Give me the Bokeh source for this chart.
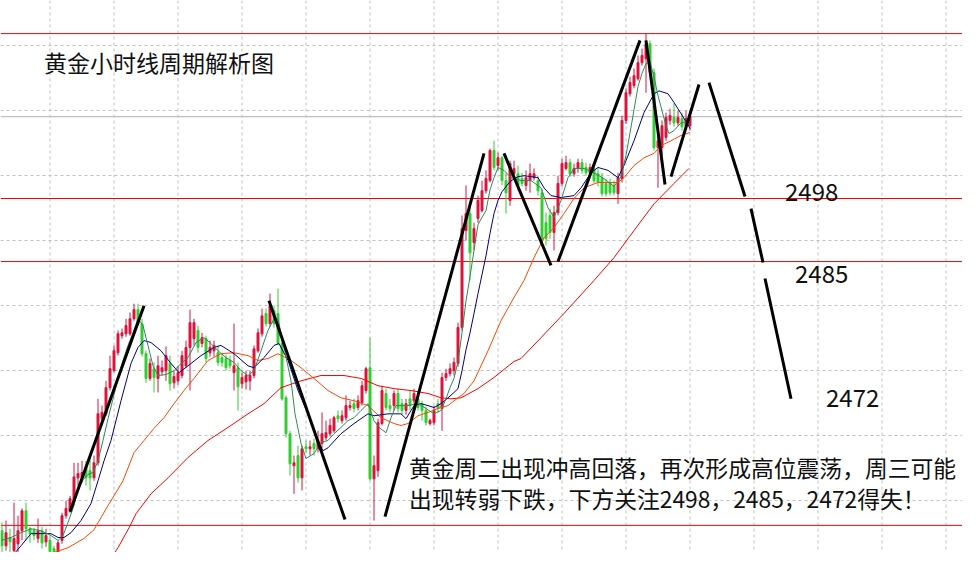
from bokeh.plotting import figure
from bokeh.models import Range1d, Span, Label, ColumnDataSource
from bokeh.embed import file_html
from bokeh.resources import INLINE

# ---- hourly XAUUSD candles (price) ----
opens = [2429.5, 2426.4, 2428.1, 2425.4, 2426.8, 2429.5, 2433.6, 2429.9, 2429.5, 2427.9,
         2429.5, 2427.2, 2427.5, 2425.8, 2424.8, 2427.5, 2432.6, 2433.6, 2435.7, 2440.4,
         2440.4, 2442.7, 2441.9, 2440.4, 2443.5, 2452.6, 2453.6, 2459.0, 2462.5, 2466.2,
         2469.7, 2470.1, 2470.1, 2473.2, 2475.1, 2472.2, 2466.0, 2460.9, 2462.9, 2460.9,
         2462.3, 2462.5, 2464.0, 2460.0, 2460.4, 2461.5, 2463.5, 2467.3, 2469.1, 2470.8,
         2468.1, 2469.1, 2466.2, 2466.6, 2466.2, 2465.2, 2465.0, 2464.6, 2462.1, 2463.1,
         2459.8, 2460.2, 2460.4, 2461.5, 2466.6, 2470.1, 2474.3, 2472.2, 2474.9, 2474.3,
         2468.1, 2456.9, 2449.5, 2442.9, 2445.0, 2440.4, 2446.8, 2446.4, 2447.5, 2446.4,
         2447.5, 2448.7, 2449.5, 2450.1, 2453.2, 2452.2, 2452.8, 2454.9, 2455.7, 2454.9,
         2455.9, 2458.4, 2463.1, 2440.2, 2441.9, 2451.6, 2457.8, 2455.3, 2455.3, 2457.8,
         2455.7, 2454.3, 2456.7, 2456.3, 2456.7, 2455.7, 2454.3, 2451.6, 2451.8, 2455.7,
         2454.7, 2461.1, 2461.9, 2462.5, 2464.0, 2471.4, 2491.4, 2494.9, 2488.9, 2493.9,
         2495.5, 2499.6, 2501.7, 2507.9, 2504.8, 2506.4, 2501.7, 2497.6, 2503.1, 2503.1,
         2502.1, 2500.7, 2501.7, 2502.3, 2501.7, 2499.2, 2493.0, 2494.5, 2491.0, 2495.1,
         2501.1, 2504.2, 2505.4, 2503.1, 2504.2, 2505.4, 2504.4, 2503.3, 2504.2, 2503.1,
         2502.3, 2501.1, 2501.3, 2500.7, 2499.0, 2502.1, 2514.1, 2519.6, 2521.3, 2522.7,
         2526.0, 2526.8, 2529.9, 2524.0, 2508.5, 2508.5, 2510.6, 2514.1, 2514.7, 2513.6,
         2514.5, 2513.0, 2513.0]
highs = [2431.2, 2431.6, 2429.9, 2435.3, 2432.6, 2434.1, 2435.3, 2430.3, 2430.1, 2432.0,
         2430.3, 2429.9, 2428.3, 2426.4, 2427.5, 2433.2, 2435.7, 2436.7, 2443.5, 2443.5,
         2443.9, 2443.9, 2444.4, 2445.0, 2456.7, 2455.3, 2460.4, 2465.6, 2467.7, 2470.8,
         2471.2, 2473.2, 2474.5, 2476.3, 2476.3, 2473.2, 2466.6, 2465.0, 2464.2, 2465.6,
         2464.6, 2467.5, 2465.6, 2462.5, 2463.5, 2466.6, 2468.7, 2475.1, 2473.2, 2471.8,
         2470.3, 2469.7, 2468.7, 2468.7, 2467.7, 2466.2, 2465.8, 2465.6, 2472.2, 2464.2,
         2462.1, 2462.5, 2462.5, 2467.7, 2471.2, 2475.3, 2475.3, 2478.4, 2475.9, 2479.4,
         2468.7, 2457.4, 2450.1, 2445.0, 2447.0, 2447.0, 2448.1, 2448.1, 2448.5, 2450.1,
         2453.9, 2452.2, 2452.6, 2453.2, 2454.3, 2454.3, 2457.4, 2456.3, 2456.7, 2457.4,
         2460.4, 2463.3, 2469.3, 2445.0, 2452.6, 2459.4, 2458.8, 2456.7, 2458.4, 2458.8,
         2456.7, 2456.7, 2458.4, 2458.8, 2457.8, 2456.3, 2455.1, 2452.6, 2455.3, 2456.7,
         2462.1, 2462.9, 2464.0, 2465.2, 2472.4, 2494.5, 2500.7, 2496.5, 2493.0, 2498.6,
         2501.7, 2503.8, 2508.3, 2509.9, 2507.5, 2506.8, 2503.3, 2505.8, 2505.8, 2504.8,
         2503.3, 2503.8, 2505.2, 2504.2, 2502.7, 2500.0, 2495.1, 2495.9, 2496.5, 2502.7,
         2506.2, 2506.8, 2506.2, 2505.2, 2506.2, 2506.2, 2505.4, 2505.2, 2505.2, 2504.2,
         2503.3, 2502.1, 2502.1, 2501.7, 2503.3, 2515.1, 2520.7, 2523.1, 2524.8, 2527.5,
         2528.9, 2532.0, 2530.6, 2524.8, 2511.0, 2514.1, 2515.7, 2516.5, 2517.6, 2516.1,
         2515.7, 2516.1, 2516.1]
lows = [2425.0, 2425.4, 2422.9, 2424.4, 2425.0, 2427.5, 2427.5, 2427.0, 2427.5, 2427.0,
        2425.8, 2426.2, 2424.4, 2422.9, 2424.2, 2426.8, 2432.0, 2433.2, 2434.7, 2438.8,
        2439.4, 2438.8, 2437.8, 2439.8, 2442.9, 2451.2, 2453.2, 2458.4, 2462.1, 2465.6,
        2469.1, 2469.5, 2469.7, 2472.8, 2471.8, 2465.4, 2460.0, 2460.4, 2458.0, 2458.0,
        2461.5, 2460.4, 2458.4, 2458.8, 2459.6, 2460.9, 2463.1, 2458.4, 2467.7, 2466.2,
        2467.3, 2464.2, 2465.4, 2465.4, 2463.5, 2463.3, 2462.5, 2462.9, 2458.4, 2454.3,
        2458.8, 2458.6, 2458.4, 2460.9, 2466.2, 2469.5, 2471.6, 2471.6, 2471.4, 2467.7,
        2456.3, 2448.7, 2440.9, 2437.1, 2439.4, 2437.8, 2445.6, 2445.0, 2445.0, 2445.6,
        2446.6, 2448.1, 2448.9, 2449.7, 2451.8, 2451.6, 2452.2, 2454.3, 2453.9, 2454.3,
        2455.3, 2457.8, 2439.8, 2431.6, 2440.6, 2451.2, 2454.3, 2453.9, 2454.3, 2453.9,
        2453.4, 2453.4, 2454.3, 2455.7, 2454.3, 2452.2, 2451.2, 2451.2, 2451.2, 2453.9,
        2450.1, 2460.4, 2461.3, 2461.5, 2463.3, 2470.8, 2489.3, 2481.1, 2487.3, 2493.0,
        2495.1, 2499.0, 2501.3, 2503.8, 2503.8, 2500.7, 2494.9, 2496.5, 2502.1, 2499.6,
        2500.5, 2499.6, 2499.2, 2501.7, 2498.6, 2488.3, 2488.3, 2489.7, 2487.3, 2494.5,
        2500.5, 2503.8, 2502.5, 2502.5, 2503.3, 2503.1, 2502.7, 2502.7, 2501.1, 2500.5,
        2498.4, 2498.4, 2498.6, 2498.6, 2496.9, 2501.3, 2513.4, 2519.0, 2520.7, 2522.3,
        2525.4, 2519.8, 2523.3, 2507.9, 2500.2, 2506.8, 2509.9, 2513.2, 2512.8, 2513.0,
        2512.0, 2512.4, 2512.0]
closes = [2426.4, 2429.1, 2427.2, 2427.9, 2429.5, 2433.6, 2429.9, 2428.9, 2428.5, 2429.5,
          2427.0, 2428.5, 2425.2, 2425.0, 2427.0, 2432.6, 2434.1, 2436.1, 2440.6, 2441.3,
          2441.5, 2440.4, 2440.4, 2443.5, 2453.6, 2453.9, 2459.0, 2462.9, 2466.6, 2470.1,
          2470.3, 2471.8, 2473.2, 2475.1, 2472.2, 2466.0, 2460.9, 2464.0, 2461.1, 2463.5,
          2463.1, 2465.6, 2459.8, 2461.3, 2462.1, 2465.6, 2467.3, 2472.4, 2472.4, 2467.3,
          2469.3, 2465.0, 2467.3, 2467.7, 2464.2, 2464.2, 2463.1, 2463.5, 2463.5, 2459.2,
          2461.1, 2461.5, 2461.5, 2467.0, 2470.3, 2473.8, 2472.2, 2475.9, 2472.2, 2468.1,
          2456.7, 2449.5, 2443.3, 2443.5, 2440.4, 2446.4, 2446.4, 2446.8, 2446.4, 2448.1,
          2449.5, 2449.7, 2451.2, 2452.8, 2452.6, 2453.2, 2455.3, 2455.3, 2454.7, 2456.3,
          2459.4, 2462.9, 2440.2, 2442.9, 2451.8, 2458.4, 2454.9, 2454.7, 2457.8, 2454.7,
          2454.3, 2455.7, 2455.3, 2457.8, 2454.9, 2454.3, 2451.8, 2452.2, 2454.3, 2454.7,
          2461.1, 2461.9, 2462.9, 2464.2, 2471.4, 2491.8, 2494.9, 2486.8, 2491.8, 2497.6,
          2499.6, 2502.1, 2507.9, 2504.4, 2506.4, 2501.7, 2499.2, 2505.2, 2504.2, 2500.7,
          2501.1, 2502.3, 2503.1, 2503.1, 2499.6, 2489.3, 2489.7, 2491.0, 2495.1, 2501.1,
          2505.2, 2505.4, 2503.1, 2504.2, 2505.4, 2503.8, 2503.3, 2504.4, 2501.7, 2501.3,
          2499.0, 2499.0, 2499.2, 2499.2, 2502.3, 2514.1, 2519.8, 2521.9, 2523.3, 2526.0,
          2527.5, 2529.9, 2524.0, 2508.5, 2509.9, 2513.0, 2514.7, 2515.1, 2513.6, 2514.7,
          2512.8, 2514.5, 2514.9]

# ---- moving averages as (bar, price) ----
ma_green = [(-0.25, 2427.5), (2.25, 2428.1), (4.75, 2429.1), (7.25, 2429.9), (9.75, 2429.5),
            (12.25, 2428.5), (14, 2427.5), (15.25, 2428.5), (16.5, 2431.2), (17.75, 2434.1),
            (19, 2437.8), (20.25, 2440.0), (21.5, 2441.1), (22.75, 2441.5), (24, 2443.9),
            (25.25, 2448.1), (26.5, 2452.6), (27.75, 2456.7), (29, 2460.9), (30.25, 2464.6),
            (31.5, 2467.7), (32.75, 2470.3), (34, 2473.2), (35.25, 2471.8), (36.5, 2467.7),
            (37.75, 2463.5), (39, 2461.5), (41, 2461.7), (43, 2462.5), (44.75, 2464.0),
            (46.5, 2465.2), (48.5, 2468.3), (50.5, 2469.3), (52.25, 2468.1), (54, 2466.6),
            (56, 2465.2), (58, 2464.2), (59.75, 2462.5), (61.5, 2461.5), (63, 2462.5),
            (64.75, 2466.6), (66.5, 2470.8), (68, 2473.2), (69, 2473.2), (70.5, 2467.3),
            (72.25, 2460.4), (73.25, 2453.6), (74.75, 2447.5), (76, 2444.4), (78, 2445.4),
            (79.75, 2447.7), (81.5, 2448.1), (83, 2449.5), (84.75, 2450.8), (86.5, 2452.2),
            (88, 2452.8), (89.75, 2454.3), (91.5, 2455.7), (93, 2452.2), (94.25, 2450.8),
            (96, 2449.7), (97.25, 2452.8), (98.5, 2455.3), (101.5, 2455.3), (104, 2455.7),
            (106, 2454.7), (108, 2453.6), (109.75, 2454.3), (111, 2456.7), (112, 2459.0),
            (113, 2460.9), (114, 2464.4), (115, 2470.3), (116, 2476.9), (117, 2481.9),
            (118, 2487.3), (119, 2492.6), (120, 2494.1), (121, 2495.5), (122, 2499.8),
            (123, 2502.3), (124, 2504.4), (125.5, 2503.8), (127.25, 2502.3), (129.75, 2501.7),
            (132.25, 2501.7), (134.75, 2500.2), (136.5, 2496.1), (138, 2494.1), (139.75, 2497.6),
            (141.5, 2502.3), (143, 2504.2), (145.5, 2504.2), (148, 2503.3), (150.5, 2502.1),
            (153, 2500.5), (154.75, 2502.5), (156, 2506.9), (157, 2511.5), (158, 2516.3),
            (159, 2521.1), (160, 2523.8), (161, 2525.8), (162, 2526.2), (163, 2523.1),
            (164, 2519.2), (165, 2516.1), (166, 2513.0), (166.75, 2511.4), (168, 2512.0),
            (169.75, 2513.6), (172, 2513.9)]
ma_blue = [(-0.25, 2422.3), (2.25, 2424.0), (4.75, 2426.4), (7.25, 2428.9), (9, 2428.9),
           (12.25, 2428.9), (14, 2428.1), (15.5, 2428.1), (17.25, 2429.1), (19.75, 2431.6),
           (22.25, 2435.1), (24, 2439.8), (25.5, 2443.9), (27.25, 2448.1), (29.75, 2456.3),
           (32.25, 2464.0), (34, 2467.3), (35.5, 2468.7), (37.25, 2468.3), (39.75, 2466.6),
           (42.25, 2464.0), (44.25, 2462.1), (46.5, 2463.5), (49.75, 2465.6), (53, 2467.3),
           (54.75, 2467.7), (58, 2466.0), (61.5, 2463.5), (63, 2463.1), (65.5, 2465.2),
           (68, 2467.7), (69.25, 2468.1), (71.5, 2464.6), (74, 2458.4), (76.5, 2453.6),
           (79, 2448.1), (80.25, 2446.0), (81.5, 2446.6), (84.75, 2449.5), (88, 2451.6),
           (91.5, 2453.6), (93, 2453.2), (96.5, 2453.6), (99.75, 2453.6), (101, 2452.6),
           (103, 2455.3), (104.75, 2455.7), (106.5, 2455.3), (108, 2454.9), (109.75, 2455.7),
           (111.5, 2456.9), (113, 2458.0), (114, 2458.8), (115, 2462.5), (116, 2466.8),
           (117, 2470.3), (118, 2474.3), (119, 2478.4), (120, 2482.3), (121, 2486.2),
           (122, 2490.8), (123, 2494.9), (124, 2497.6), (125, 2499.4), (127, 2501.5),
           (129, 2502.5), (130.5, 2502.7), (134, 2502.3), (135.5, 2500.2), (137.25, 2498.6),
           (139.75, 2498.2), (143, 2498.6), (144.75, 2500.2), (147.25, 2503.3), (149, 2504.4),
           (151.5, 2503.8), (154, 2502.3), (155.5, 2504.8), (158, 2509.9), (160.5, 2515.7),
           (163, 2519.6), (164.25, 2520.2), (166.5, 2519.6), (168, 2517.8), (169.75, 2515.5),
           (171.5, 2513.2), (172, 2512.4)]
ma_orange = [(5.5, 2421.7), (9.75, 2424.0), (13, 2425.0), (16.5, 2426.0), (20.5, 2427.9),
             (23, 2429.7), (24.75, 2432.2), (26.5, 2434.7), (28, 2436.7), (30.25, 2439.8),
             (33, 2445.6), (35.5, 2448.1), (38, 2450.6), (40.5, 2452.8), (43, 2455.7),
             (45.5, 2458.4), (48, 2460.9), (51.5, 2464.6), (54.75, 2466.0), (58, 2466.2),
             (61.5, 2465.6), (64, 2464.6), (66.5, 2465.0), (69, 2466.0), (72.25, 2464.6),
             (74.75, 2463.1), (78, 2460.9), (81.5, 2458.4), (84.75, 2456.9), (88, 2456.3),
             (91.5, 2455.3), (94.75, 2452.8), (98, 2451.6), (99.75, 2451.2), (101.5, 2451.6),
             (104, 2453.2), (106.5, 2453.9), (109, 2454.7), (111.5, 2455.3), (114, 2456.9),
             (115.5, 2457.8), (118, 2460.4), (121.5, 2466.6), (124.75, 2472.8), (128, 2477.6),
             (130.5, 2481.1), (133, 2485.8), (135.5, 2489.9), (138, 2492.0), (140.5, 2494.9),
             (143, 2498.0), (145.5, 2500.2), (149, 2501.3), (154, 2501.3), (155.5, 2502.3),
             (158, 2504.8), (160.5, 2506.4), (163, 2507.3), (164.75, 2508.9), (167.25, 2509.9),
             (169.75, 2511.0), (172, 2511.6)]
ma_red = [(25.5, 2421.7), (29, 2426.0), (31.75, 2430.1), (33.5, 2433.0), (37.25, 2437.1),
          (41.5, 2440.4), (46.5, 2444.6), (51.5, 2448.1), (56.5, 2450.8), (61.5, 2453.6),
          (65.5, 2455.7), (69.75, 2459.0), (74.75, 2460.4), (79.75, 2461.5), (85.5, 2461.5),
          (89.75, 2460.9), (94, 2459.4), (98, 2458.8), (102.25, 2458.4), (106.5, 2457.8),
          (109.75, 2456.9), (112.25, 2456.7), (114.75, 2456.9), (119, 2458.8), (123, 2461.1),
          (128, 2464.4), (129.75, 2465.0), (134.75, 2469.3), (140.5, 2474.3), (148, 2481.1),
          (153, 2485.8), (158, 2491.4), (163, 2496.9), (168, 2501.1), (171.75, 2504.2)]

# ---- horizontal levels and hand-drawn trend strokes ----
levels = [2532.0, 2498.0, 2485.0, 2430.6]
last_price = 2514.9
trend_x0 = [17, 66.75, 95.75, 125.5, 139, 161, 167.25, 176.75, 187.25, 190.75]
trend_y0 = [2433.4, 2476.9, 2432.4, 2507.3, 2485.0, 2530.6, 2502.5, 2521.9, 2495.9, 2481.5]
trend_x1 = [35.5, 85.75, 120.5, 137.25, 159.5, 165.75, 174.25, 185.75, 190.25, 197.25]
trend_y1 = [2475.9, 2431.8, 2507.3, 2484.2, 2530.6, 2500.9, 2521.5, 2498.4, 2484.8, 2456.7]

title_text = "黄金小时线周期解析图"
target_labels = ["2498", "2485", "2472"]
note_lines = ["黄金周二出现冲高回落，再次形成高位震荡，周三可能",
              "出现转弱下跌，下方关注2498，2485，2472得失！"]

UP = "#dc143c"
DOWN = "#32cd32"
FONT = "Noto Sans CJK SC"

bars = list(range(len(opens)))
colors = [UP if c >= o else DOWN for o, c in zip(opens, closes)]
src = ColumnDataSource(dict(
    x=bars, high=highs, low=lows,
    top=[max(o, c) for o, c in zip(opens, closes)],
    bottom=[min(o, c) for o, c in zip(opens, closes)],
    color=colors))

p = figure(width=962, height=552,
           x_range=Range1d(-0.375, 240.125), y_range=Range1d(2425.01, 2538.825),
           output_backend="svg", toolbar_location=None,
           x_axis_type=None, y_axis_type=None, min_border=0,
           outline_line_color=None, background_fill_color="white",
           border_fill_color="white")

# dotted grid
for k in range(15):
    p.add_layout(Span(location=12 + 16 * k, dimension="height", line_color="#c0c0c0",
                      line_dash="3 3", line_width=1, level="underlay"))
for k in range(8):
    p.add_layout(Span(location=2529.55 - 13.402 * k, dimension="width", line_color="#c0c0c0",
                      line_dash="3 3", line_width=1, level="underlay"))

for lv in levels:
    p.add_layout(Span(location=lv, dimension="width", line_color="#ff0000",
                      line_width=1, level="underlay"))
p.add_layout(Span(location=last_price, dimension="width", line_color="#c0c0c0",
                  line_width=1.2, level="underlay"))

# candles
p.segment(x0="x", y0="low", x1="x", y1="high", line_color="color", line_width=1, source=src)
p.vbar(x="x", top="top", bottom="bottom", width=0.5, fill_color="color",
       line_color="color", line_width=1, source=src)

# moving averages
for ma, col in [(ma_red, "#ff0000"), (ma_orange, "#ff4500"), (ma_blue, "#000080"), (ma_green, "#2e8b57")]:
    p.line([a for a, b in ma], [b for a, b in ma], line_color=col, line_width=1)

# trend strokes
p.segment(x0=trend_x0, y0=trend_y0, x1=trend_x1, y1=trend_y1, line_color="black", line_width=3)

# texts
p.add_layout(Label(x=10.5, y=2526.2, text=title_text, text_font=FONT, text_font_size="23px",
                   text_baseline="middle", text_align="left", text_color="#111111"))
for txt, lx, ly in zip(target_labels, [195.75, 198.25, 206.0], [2499.4, 2482.4, 2456.8]):
    p.add_layout(Label(x=lx, y=ly, text=txt, text_font=FONT, text_font_size="24px",
                       text_baseline="middle", text_align="left", text_color="#111111"))
for txt, ly in zip(note_lines, [2442.5, 2436.1]):
    p.add_layout(Label(x=101.75, y=ly, text=txt, text_font=FONT, text_font_size="22.8px",
                       text_baseline="middle", text_align="left", text_color="#111111"))

open("out.html", "w").write(file_html(p, INLINE))
